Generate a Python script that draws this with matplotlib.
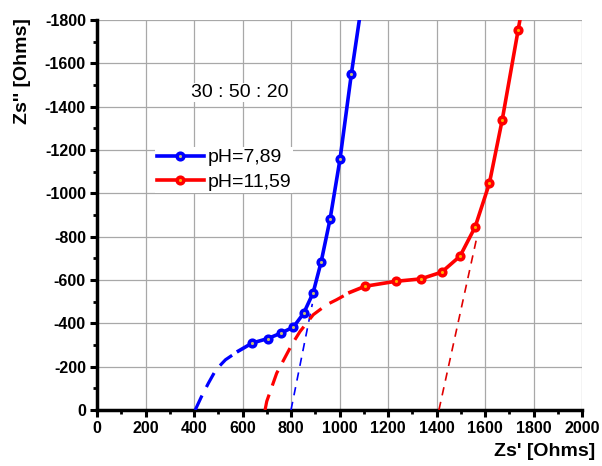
import numpy as np
from matplotlib import pyplot as plt
from matplotlib.ticker import MultipleLocator

plt.rcParams['font.family'] = ['Liberation Sans', 'DejaVu Sans']
plt.rcParams['axes.unicode_minus'] = False

# blue series pH=7,89 (Zs', -Zs'')
blue_x = [583, 640, 705, 759, 810, 852, 891, 924, 961, 1002, 1049, 1082]
blue_y = [272, 309, 330, 355, 383, 446, 540, 682, 880, 1157, 1552, 1802]
blue_marks = list(range(1, 11))
# blue dashed extrapolation (low frequency arc)
blue_arc_x = [405, 430, 460, 490, 530, 583]
blue_arc_y = [0, 60, 125, 185, 232, 272]
# blue thin tangent
blue_tan_x = [800, 888]
blue_tan_y = [0, 490]

# red series pH=11,59
red_x = [1043, 1105, 1232, 1335, 1421, 1497, 1559, 1618, 1671, 1737, 1744]
red_y = [543, 571, 594, 605, 636, 710, 844, 1046, 1339, 1756, 1800]
red_marks = list(range(1, 10))
red_arc_x = [693, 700, 741, 803, 837, 892, 947, 988, 1043]
red_arc_y = [0, 40, 170, 301, 362, 440, 486, 509, 543]
red_tan_x = [1410, 1565]
red_tan_y = [0, 790]

fig = plt.figure(figsize=(6.02, 4.66), dpi=100)
ax = fig.add_axes([97 / 602, 1 - 410 / 466, 485 / 602, 390 / 466])

neg = lambda v: [-a for a in v]

ax.plot(blue_arc_x, neg(blue_arc_y), color='#0000ff', lw=2.3, ls=(0, (5, 3)), zorder=3)
ax.plot(blue_tan_x, neg(blue_tan_y), color='#0000ff', lw=1.2, ls=(0, (5, 4)), zorder=3)
ax.plot(red_arc_x, neg(red_arc_y), color='#ff0000', lw=2.3, ls=(0, (5, 3)), zorder=3)
ax.plot(red_tan_x, neg(red_tan_y), color='#e00000', lw=1.2, ls=(0, (5, 4)), zorder=3)

ax.plot(blue_x, neg(blue_y), color='#0000ff', lw=2.6, marker='o', markevery=blue_marks,
        ms=4.8, mfc='#c8bf70', mec='#0000ff', mew=2.5, label='pH=7,89', zorder=4)
ax.plot(red_x, neg(red_y), color='#ff0000', lw=2.6, marker='o', markevery=red_marks,
        ms=4.8, mfc='#ffb000', mec='#ff0000', mew=2.5, label='pH=11,59', zorder=4)

ax.set_xlim(0, 2000)
ax.set_ylim(0, -1800)
ax.xaxis.set_major_locator(MultipleLocator(200))
ax.xaxis.set_minor_locator(MultipleLocator(100))
ax.yaxis.set_major_locator(MultipleLocator(200))
ax.yaxis.set_minor_locator(MultipleLocator(100))
ax.grid(True, which='major', color='#a8a8a8', lw=0.9)
ax.set_axisbelow(True)

for s in ['top', 'right']:
    ax.spines[s].set_visible(False)
for s in ['left', 'bottom']:
    ax.spines[s].set_linewidth(2.5)
ax.tick_params(which='major', direction='out', length=5, width=2.2, pad=3)
ax.tick_params(which='minor', direction='out', length=3, width=2)
for lab in ax.get_xticklabels() + ax.get_yticklabels():
    lab.set_fontweight('bold')
    lab.set_fontsize(11.5)

ax.text(590, -1465, '30 : 50 : 20', fontsize=14, ha='center', va='center',
        bbox=dict(facecolor='white', edgecolor='none', pad=1), zorder=5)

leg = ax.legend(loc='upper left', bbox_to_anchor=(0.12, 0.675), fontsize=14,
                frameon=True, fancybox=False, framealpha=1, edgecolor='none',
                handlelength=2.4, handletextpad=0.2, labelspacing=0.35,
                borderpad=0.1, borderaxespad=0)
leg.set_zorder(6)

fig.text(595 / 602, 1 - 452 / 466, "Zs' [Ohms]", fontsize=14, fontweight='bold',
         ha='right', va='center')
fig.text(23 / 602, 1 - 18 / 466, "Zs'' [Ohms]", fontsize=14, fontweight='bold',
         ha='center', va='top', rotation=90)

fig.savefig('out.png', dpi=100)
